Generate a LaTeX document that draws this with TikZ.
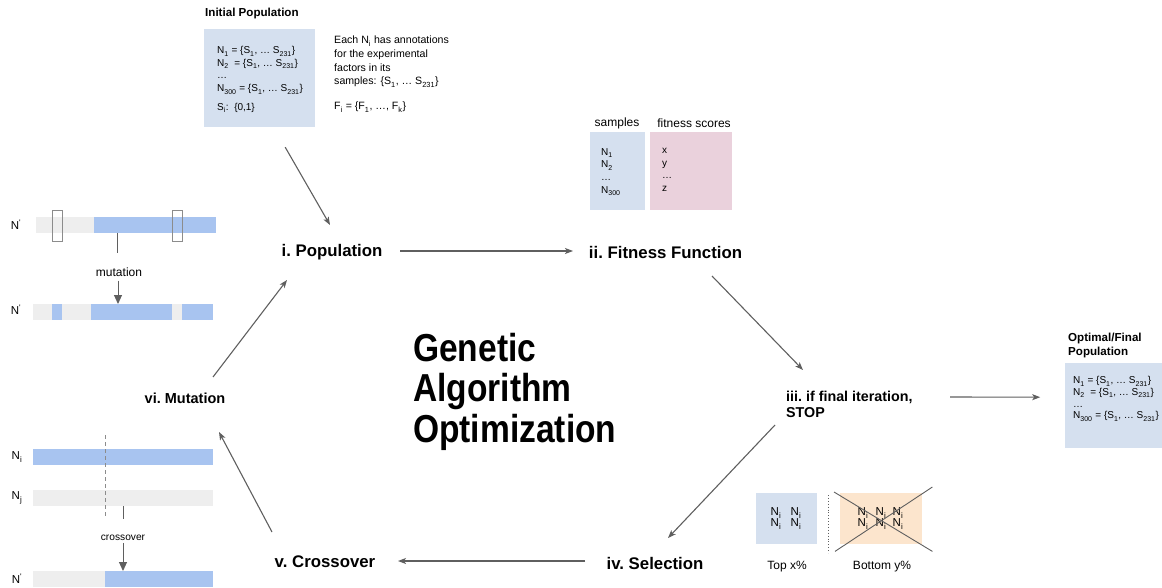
\documentclass[tikz,border=0pt]{standalone}
\usepackage{fontspec}
\setmainfont{Liberation Sans}
\usetikzlibrary{arrows.meta,calc}

\definecolor{boxblue}{HTML}{D5E0EF}
\definecolor{boxpink}{HTML}{EAD1DC}
\definecolor{boxorange}{HTML}{FCE5CD}
\definecolor{barblue}{HTML}{A8C4F0}
\definecolor{bargray}{HTML}{EEEEEE}
\definecolor{linegray}{HTML}{5F5F5F}
\definecolor{framegray}{HTML}{8C8C8C}

\newcommand{\fsz}[2]{\fontsize{#1}{#2}\selectfont}
\newcommand{\sbs}[1]{\textsubscript{\raisebox{-0.3ex}{#1}}}
\newcommand{\gene}{N\textsuperscript{\textquotesingle}}

\begin{document}
\begin{tikzpicture}[x=1pt,y=-1pt,
  stage/.style={font=\bfseries\fsz{16.8}{19}, inner sep=1pt},
  stagesm/.style={font=\bfseries\fsz{14.3}{15.5}, inner sep=0pt, align=left},
  heading/.style={font=\bfseries\fsz{11.6}{14}, inner sep=0pt, align=left},
  txt/.style={font=\fsz{10}{12.7}, inner sep=0pt, align=left},
  note/.style={font=\fsz{10.6}{13.7}, inner sep=0pt, align=left},
  caption/.style={font=\fsz{12}{14}, inner sep=0pt},
  panel/.style={draw=none, inner sep=0pt, anchor=north west},
  arr/.style={draw=linegray, line width=1.1pt, -{Stealth[length=8pt,width=6pt,inset=2pt]}},
  bigtip/.style={draw=linegray, line width=1pt, -{Triangle[length=9pt,width=8pt]}},
  tick/.style={draw=linegray, line width=1pt},
]
\useasboundingbox (0,0) rectangle (1162,588);

% ---------- initial population ----------
\node[heading, anchor=west] (inithead) at (205,14) {Initial Population};
\node[panel, fill=boxblue, minimum width=111pt, minimum height=98pt] (initbox) at (204,29) {};
\node[txt, anchor=north west] (inittxt) at (217,46)
  {N\sbs{1} = \{S\sbs{1}, \ldots\ S\sbs{231}\}\\
   N\sbs{2}\ \ = \{S\sbs{1}, \ldots\ S\sbs{231}\}\\
   \ldots\\
   N\sbs{300} = \{S\sbs{1}, \ldots\ S\sbs{231}\}\\[6pt]
   S\sbs{i}:\ \ \{0,1\}};
\node[note, anchor=north west] (initnote) at (334,36)
  {Each N\sbs{i} has annotations\\
   for the experimental\\
   factors in its\\
   samples: \{S\sbs{1}, \ldots\ S\sbs{231}\}\\[11pt]
   F\sbs{i} = \{F\sbs{1}, \ldots, F\sbs{k}\}};

% ---------- fitness table ----------
\node[caption] (samphead) at (617,123) {samples};
\node[caption] (fithead) at (694,123) {fitness scores};
\node[panel, fill=boxblue, minimum width=55pt, minimum height=78pt] (sampbox) at (590,132) {};
\node[panel, fill=boxpink, minimum width=82pt, minimum height=78pt] (fitbox) at (650,132) {};
\node[txt, anchor=north west] (samptxt) at (601,148)
  {N\sbs{1}\\ N\sbs{2}\\ \ldots\\ N\sbs{300}};
\node[txt, anchor=north west] (fittxt) at (662,148)
  {x\\ y\\ \ldots\\ z};

% ---------- final population ----------
\node[heading, anchor=north west] (opthead) at (1068,333) {Optimal/Final\\Population};
\node[panel, fill=boxblue, minimum width=98pt, minimum height=85pt] (optbox) at (1065,363) {};
\node[txt, anchor=north west, font=\fsz{10}{11.8}] (opttxt) at (1073,376)
  {N\sbs{1} = \{S\sbs{1}, \ldots\ S\sbs{231}\}\\
   N\sbs{2}\ \ = \{S\sbs{1}, \ldots\ S\sbs{231}\}\\
   \ldots\\
   N\sbs{300} = \{S\sbs{1}, \ldots\ S\sbs{231}\}};

% ---------- cycle stages ----------
\node[stage] (pop) at (332,252) {i.\ Population};
\node[stage] (fit) at (665.5,252) {ii.\ Fitness Function};
\node[stagesm, anchor=north west] (stop) at (786,391) {iii.\ if final iteration,\\STOP};
\node[stage] (sel) at (655,563) {iv.\ Selection};
\node[stage] (cross) at (325,562) {v.\ Crossover};
\node[stage, font=\bfseries\fsz{14.5}{17}] (mut) at (185,398) {vi.\ Mutation};

% ---------- title ----------
\node[inner sep=0pt, anchor=north west, align=left, font=\bfseries\fsz{39}{40.5}] (title) at (413,333)
  {\scalebox{0.86}[1]{Genetic}\\ \scalebox{0.86}[1]{Algorithm}\\ \scalebox{0.86}[1]{Optimization}};

% ---------- cycle arrows ----------
\draw[arr] ($(initbox.center)+(25.5,69)$) -- ($(pop.center)+(-2,-27)$);
\draw[arr] ($(pop.center)+(68,-1)$) -- ($(fit.center)+(-92.5,-1)$);
\draw[arr] ($(fit.center)+(46.5,24)$) -- ($(stop.north west)+(17,-21)$);
\draw[arr] ($(stop.north west)+(164,6)$) -- ($(optbox.center)+(-74,-8.5)$);
\draw[arr] ($(stop.north west)+(-11,34)$) -- ($(sel.center)+(13,-25)$);
\draw[arr] ($(sel.center)+(-70,-2)$) -- ($(cross.center)+(73,-1)$);
\draw[arr] ($(cross.center)+(-53,-30)$) -- ($(mut.center)+(34,34)$);
\draw[arr] ($(mut.center)+(28,-21)$) -- ($(pop.center)+(-45,28)$);

% ---------- selection panel ----------
\node[panel, fill=boxblue, minimum width=61pt, minimum height=51pt] (topbox) at (756,493) {};
\node[panel, fill=boxorange, minimum width=82pt, minimum height=51pt] (botbox) at (840,493) {};
\foreach \cx/\nm in {776/a,796/b}{
  \node[inner sep=0pt, font=\fsz{11.5}{13}] (t1\nm) at (\cx,513) {N\sbs{i}};
  \node[inner sep=0pt, font=\fsz{11.5}{13}] (t2\nm) at (\cx,524) {N\sbs{i}};
}
\foreach \cx/\nm in {863/a,881/b,898/c}{
  \node[inner sep=0pt, font=\fsz{11.5}{13}] (b1\nm) at (\cx,513) {N\sbs{i}};
  \node[inner sep=0pt, font=\fsz{11.5}{13}] (b2\nm) at (\cx,524) {N\sbs{i}};
}
\draw[linegray, line width=0.9pt] ($(botbox.north west)+(-6,-1)$) -- ($(botbox.south east)+(10,7)$);
\draw[linegray, line width=0.9pt] ($(botbox.south west)+(-5,7)$) -- ($(botbox.north east)+(10,-6)$);
\draw[linegray, line width=0.9pt, dotted] (828,495) -- (828,553);
\node[caption] (topcap) at (787,567) {Top x\%};
\node[caption] (botcap) at (882,567) {Bottom y\%};

% ---------- mutation panel ----------
\fill[bargray] (36,217) rectangle (94,233);
\fill[barblue] (94,217) rectangle (216,233);
\draw[framegray, line width=0.9pt] (52,210) rectangle (62,241);
\draw[framegray, line width=0.9pt] (172,210) rectangle (182,241);
\node[inner sep=0pt, font=\fsz{11.5}{13}] (mtop) at (16,225) {\gene};
\fill[bargray] (33,304) rectangle (213,320);
\fill[barblue] (52,304) rectangle (62,320);
\fill[barblue] (91,304) rectangle (172,320);
\fill[barblue] (182,304) rectangle (213,320);
\node[inner sep=0pt, font=\fsz{11.5}{13}] (mbot) at (16,310) {\gene};
\coordinate (mstem) at (117,233);
\coordinate (mhit) at (118,304);
\node[caption] (mutlbl) at (119,272) {mutation};
\draw[tick] (mstem) -- ++(0,20);
\draw[bigtip] ($(mutlbl.south)+(-1,4)$) -- (mhit);

% ---------- crossover panel ----------
\fill[barblue] (33,449) rectangle (213,465);
\node[inner sep=0pt, font=\fsz{11.5}{13}] (ci) at (17,457) {N\sbs{i}};
\fill[bargray] (33,490) rectangle (213,506);
\node[inner sep=0pt, font=\fsz{11.5}{13}] (cj) at (17,498) {N\sbs{j}};
\draw[framegray, line width=0.9pt, dash pattern=on 4pt off 3pt] (105,435) -- (105,518);
\fill[bargray] (33,571) rectangle (105,587);
\fill[barblue] (105,571) rectangle (213,587);
\node[inner sep=0pt, font=\fsz{11.5}{13}] (cn) at (17,579) {\gene};
\coordinate (cstem) at (123,506);
\coordinate (chit) at (123,571);
\node[caption, font=\fsz{10.2}{12}] (crosslbl) at (123,538) {crossover};
\draw[tick] (cstem) -- ++(0,13);
\draw[bigtip] ($(crosslbl.south)+(0,2)$) -- (chit);

\end{tikzpicture}
\end{document}
